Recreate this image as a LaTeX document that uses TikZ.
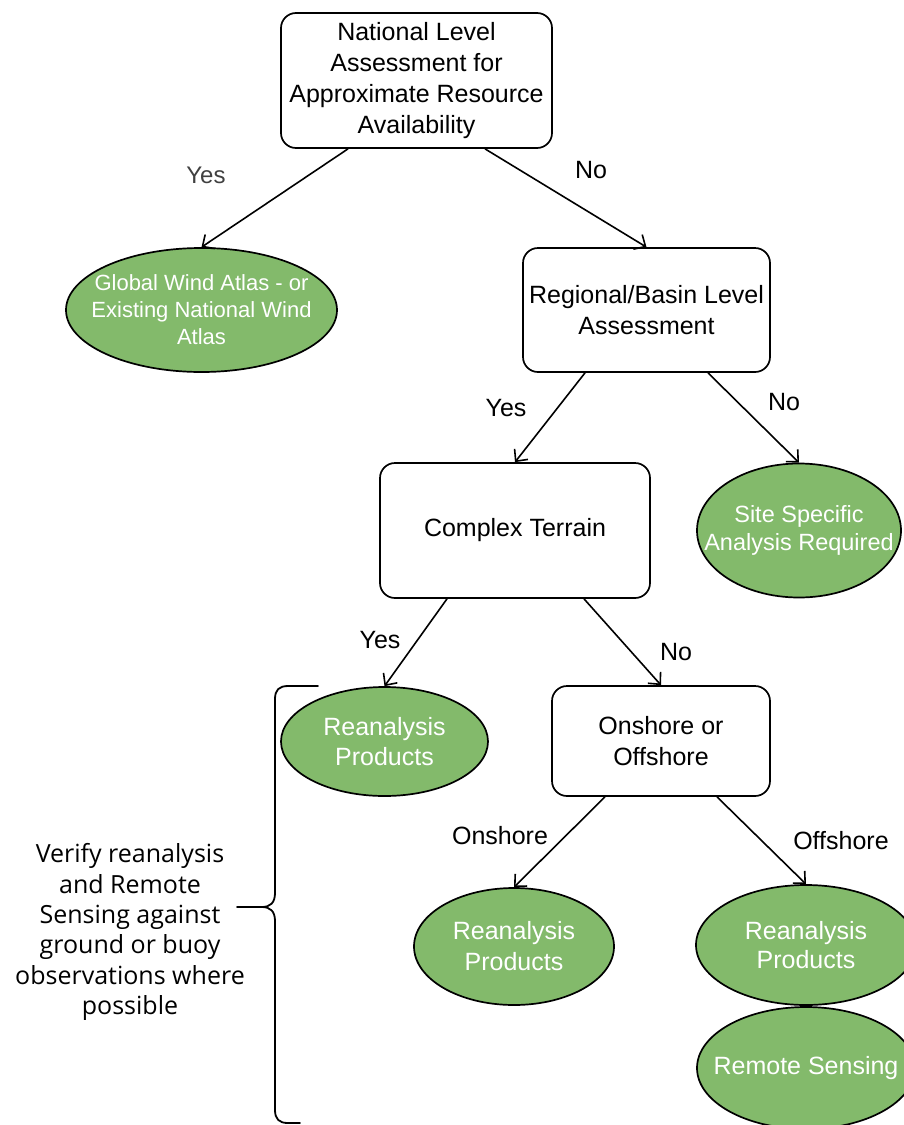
\documentclass[tikz,border=0pt]{standalone}
\usepackage{fontspec}
\setmainfont{Liberation Sans}
\newfontfamily\notefont{Open Sans}
\usetikzlibrary{arrows.meta,shapes.geometric}
\definecolor{leafgreen}{RGB}{131,186,107}
\definecolor{labelgray}{RGB}{64,64,64}

\begin{document}
\begin{tikzpicture}[x=1pt,y=-1pt,
  box/.style={draw, line width=1.7pt, rounded corners=15pt, fill=white,
    inner sep=0pt, align=center, font=\fontsize{25}{31}\selectfont},
  leaf/.style={ellipse, draw, line width=1.7pt, fill=leafgreen, inner sep=0pt},
  leaftext/.style={text=white, align=center, inner sep=0pt},
  arr/.style={line width=1.6pt, -{Straight Barb[length=9pt,width=17pt,line width=1.6pt]}},
  lbl/.style={inner sep=0pt, font=\fontsize{25}{30}\selectfont},
  brace/.style={line width=1.8pt, line cap=round, line join=round}
]
\useasboundingbox (0,0) rectangle (904,1125);

% decision boxes
\node[box, minimum width=271pt, minimum height=135pt] (nat) at (416.5,80.5)
  {National Level\\Assessment for\\Approximate Resource\\Availability};
\node[box, minimum width=247pt, minimum height=124pt] (reg) at (646.5,310)
  {Regional/Basin Level\\Assessment};
\node[box, minimum width=270pt, minimum height=135pt] (ct) at (515,530.5)
  {Complex Terrain};
\node[box, minimum width=218pt, minimum height=110pt] (oo) at (661,741)
  {Onshore or\\Offshore};

% outcome ellipses
\node[leaf, minimum width=271pt, minimum height=124pt,
  label={[leaftext, font=\fontsize{22}{27}\selectfont]center:{Global Wind Atlas - or\\Existing National Wind\\Atlas}}]
  (gwa) at (201.5,310) {};
\node[leaf, minimum width=204pt, minimum height=134pt,
  label={[leaftext, font=\fontsize{23.5}{28}\selectfont]center:{Site Specific\\Analysis Required}}]
  (site) at (799,530.5) {};
\node[leaf, minimum width=207pt, minimum height=109pt,
  label={[leaftext, font=\fontsize{25}{30}\selectfont]center:{Reanalysis\\Products}}]
  (reaA) at (384.5,741.5) {};
\node[leaf, minimum width=200pt, minimum height=117pt,
  label={[leaftext, font=\fontsize{25}{31}\selectfont]center:{Reanalysis\\Products}}]
  (reaB) at (514,946.5) {};
\node[leaf, minimum width=220pt, minimum height=120pt,
  label={[leaftext, font=\fontsize{25}{29}\selectfont]center:{Reanalysis\\Products}}]
  (reaC) at (806,945) {};
\node[leaf, minimum width=218pt, minimum height=122pt,
  label={[leaftext, font=\fontsize{25}{30}\selectfont]center:{Remote Sensing}}]
  (rs) at (806,1068) {};

% connectors
\draw[arr] ([xshift=-68.5pt]nat.south) -- (gwa.north);
\draw[arr] ([xshift=68.5pt]nat.south) -- (reg.north);
\draw[arr] ([xshift=-61.5pt]reg.south) -- (ct.north);
\draw[arr] ([xshift=61.5pt]reg.south) -- (site.north);
\draw[arr] ([xshift=-68pt]ct.south) -- (reaA.north);
\draw[arr] ([xshift=69pt]ct.south) -- (oo.north);
\draw[arr] ([xshift=-56pt]oo.south) -- (reaB.north);
\draw[arr] ([xshift=56pt]oo.south) -- (reaC.north);

% branch labels
\node[lbl, text=labelgray, font=\fontsize{24}{29}\selectfont] (y1) at (206,175) {Yes};
\node[lbl] (n1) at (591,170) {No};
\node[lbl] (y2) at (506,408) {Yes};
\node[lbl] (n2) at (784,402) {No};
\node[lbl] (y3) at (380,640) {Yes};
\node[lbl] (n3) at (676,652) {No};
\node[lbl] (on) at (500,836) {Onshore};
\node[lbl] (off) at (841,841) {Offshore};

% curly bracket grouping the reanalysis and remote-sensing outcomes
\coordinate (btip) at (237,907);
\draw[brace] (318,686) -- (288,686) .. controls (279,686) and (275,690) .. (275,699)
  -- (275,893) .. controls (275,903) and (270,907) .. (262,907) -- (btip);
\draw[brace] (262,907) .. controls (270,907) and (275,911) .. (275,921)
  -- (275,1110) .. controls (275,1119) and (279,1123) .. (288,1123) -- (300,1123);

% verification note
\node[inner sep=0pt, align=center, font=\notefont\fontsize{25}{30.3}\selectfont] (note) at (130,932)
  {Verify reanalysis\\and Remote\\Sensing against\\ground or buoy\\observations where\\possible};
\end{tikzpicture}
\end{document}
